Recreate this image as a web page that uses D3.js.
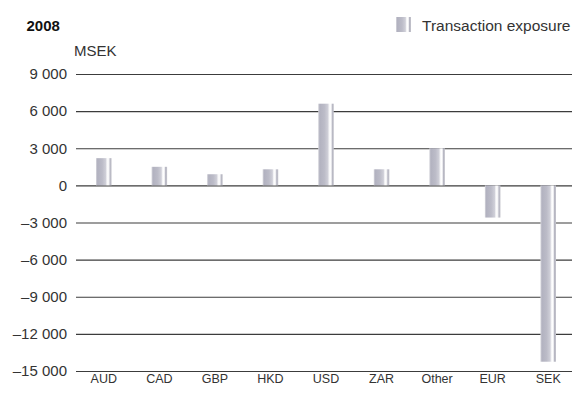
<!DOCTYPE html>
<html>
<head>
<meta charset="utf-8">
<script src="https://cdn.jsdelivr.net/npm/d3@7"></script>
<style>
  html, body { margin: 0; padding: 0; background: #fff; }
  svg { display: block; font-family: "Liberation Sans", Arial, Helvetica, sans-serif; }
</style>
</head>
<body>
<svg id="chart" width="573" height="394"></svg>
<script>
// Currency exposure, 2008 (MSEK)
const categories = ["AUD", "CAD", "GBP", "HKD", "USD", "ZAR", "Other", "EUR", "SEK"];
const exposure = [2200, 1500, 900, 1300, 6600, 1300, 3000, -2600, -14250];
const tickValues = [9000, 6000, 3000, 0, -3000, -6000, -9000, -12000, -15000];
const seriesName = "Transaction exposure";
const yearLabel = "2008";
const unitLabel = "MSEK";

const svg = d3.select("#chart");

// Metallic column fill: light edge, darker body, white highlight near the right
const defs = svg.append("defs");
const grad = defs.append("linearGradient")
  .attr("id", "barFill").attr("x1", 0).attr("x2", 1).attr("y1", 0).attr("y2", 0);
[
  [0.00, "#d6d6dc"], [0.10, "#b2b2c0"], [0.40, "#bcbcc8"], [0.62, "#cfcfd8"],
  [0.70, "#f4f4f6"], [0.78, "#ffffff"], [0.85, "#e8e8ec"], [0.90, "#b6b6c2"], [1.00, "#c4c4cc"]
].forEach(([o, c]) => grad.append("stop").attr("offset", o).attr("stop-color", c));

const plotLeft = 76, plotRight = 572;

const x = d3.scaleBand()
  .domain(categories)
  .range([76, 576])
  .paddingInner(0.72)
  .paddingOuter(0.36);

const y = d3.scaleLinear()
  .domain([-15000, 9000])
  .range([371, 74]);

const locale = d3.formatLocale({ decimal: ",", thousands: "\u00a0", grouping: [3], currency: ["", ""], minus: "\u2013" });
const fmt = locale.format(",d");

// Gridlines with value labels
const yAxis = d3.axisLeft(y)
  .tickValues(tickValues)
  .tickSize(-(plotRight - plotLeft))
  .tickPadding(9)
  .tickFormat(fmt);

const gy = svg.append("g")
  .attr("transform", `translate(${plotLeft},0)`)
  .call(yAxis);
gy.select(".domain").remove();
gy.selectAll(".tick line")
  .attr("stroke", "#3c3c3c")
  .attr("stroke-width", 1.2);
gy.selectAll(".tick text")
  .attr("fill", "#333")
  .attr("font-size", 15)
  .attr("font-family", "\"Liberation Sans\", Arial, sans-serif");

// Columns
const zero = y(0);
svg.append("g").selectAll("rect")
  .data(categories.map((c, i) => ({ c, v: exposure[i] })))
  .join("rect")
  .attr("x", d => x(d.c))
  .attr("width", x.bandwidth())
  .attr("y", d => Math.min(y(d.v), zero))
  .attr("height", d => Math.abs(y(d.v) - zero))
  .attr("fill", "url(#barFill)");

// Category labels
svg.append("g").selectAll("text")
  .data(categories)
  .join("text")
  .attr("x", d => x(d) + x.bandwidth() / 2)
  .attr("y", 382.5)
  .attr("text-anchor", "middle")
  .attr("font-size", 12.5)
  .attr("fill", "#333")
  .text(d => d);

// Year and unit
svg.append("text")
  .attr("x", 26.5).attr("y", 30.5)
  .attr("font-size", 15).attr("font-weight", "bold").attr("fill", "#111")
  .text(yearLabel);
svg.append("text")
  .attr("x", 74).attr("y", 56)
  .attr("font-size", 15).attr("fill", "#333")
  .text(unitLabel);

// Legend
svg.append("rect")
  .attr("x", 396).attr("y", 17).attr("width", 15).attr("height", 15)
  .attr("fill", "url(#barFill)");
svg.append("text")
  .attr("x", 422).attr("y", 30.5)
  .attr("font-size", 15.5).attr("fill", "#333")
  .text(seriesName);
</script>
</body>
</html>
